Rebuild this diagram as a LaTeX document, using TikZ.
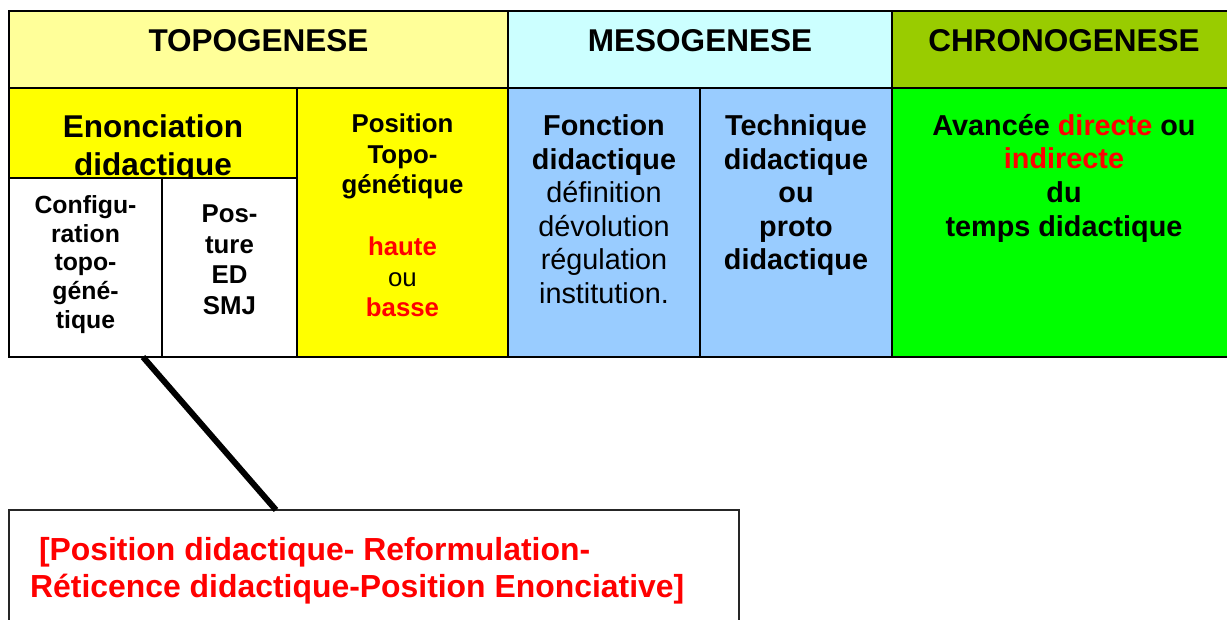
\documentclass[tikz,border=0pt]{standalone}
\usepackage{fontspec}
\setmainfont{Liberation Sans}
\usetikzlibrary{calc}
\definecolor{hdrtopo}{HTML}{FFFF99}
\definecolor{hdrmeso}{HTML}{CCFFFF}
\definecolor{hdrchrono}{HTML}{99CC00}
\definecolor{bodytopo}{HTML}{FFFF00}
\definecolor{bodymeso}{HTML}{99CCFF}
\definecolor{bodychrono}{HTML}{00FF00}
\definecolor{txtred}{HTML}{FF0000}
\newcommand{\redtxt}[1]{\textcolor{txtred}{#1}}
\begin{document}
\begin{tikzpicture}[x=1pt,y=-1pt,
  cell/.style={draw=black,line width=2pt,anchor=north west,inner sep=0pt,outer sep=0pt},
  hdrtext/.style={anchor=base,inner sep=0pt,font=\fontsize{31.5}{36}\selectfont\bfseries},
  bodytext/.style={anchor=north,inner sep=0pt,align=center},
  connector/.style={line width=6pt,draw=black}
]
\useasboundingbox (0,0) rectangle (1227,620);
\clip (0,0) rectangle (1227,620);
% header cells
\node[cell,fill=hdrtopo,minimum width=499pt,minimum height=77pt] (htopo) at (9,11) {};
\node[cell,fill=hdrmeso,minimum width=384pt,minimum height=77pt] (hmeso) at (508,11) {};
\node[cell,fill=hdrchrono,minimum width=344pt,minimum height=77pt] (hchrono) at (892,11) {};
% body cells
\node[cell,fill=bodytopo,minimum width=288pt,minimum height=269pt] (enonc) at (9,88) {};
\node[cell,fill=bodytopo,minimum width=211pt,minimum height=269pt] (position) at (297,88) {};
\node[cell,fill=bodymeso,minimum width=192pt,minimum height=269pt] (fonction) at (508,88) {};
\node[cell,fill=bodymeso,minimum width=192pt,minimum height=269pt] (technique) at (700,88) {};
\node[cell,fill=bodychrono,minimum width=344pt,minimum height=269pt] (chrono) at (892,88) {};
% Enonciation text (partly hidden by the sub-cells)
\node[bodytext,font=\fontsize{31.5}{38.5}\selectfont\bfseries] (tenonc) at (153,114.4) {Enonciation\\didactique};
% sub-cells
\node[cell,fill=white,minimum width=153pt,minimum height=179pt] (config) at (9,178) {};
\node[cell,fill=white,minimum width=135pt,minimum height=179pt] (posture) at (162,178) {};
% header texts
\node[hdrtext] (ttopo) at (258.5,52) {TOPOGENESE};
\node[hdrtext] (tmeso) at (700,52) {MESOGENESE};
\node[hdrtext] (tchrono) at (1064,52) {CHRONOGENESE};
% body texts
\node[bodytext,font=\fontsize{24.8}{28.7}\selectfont\bfseries] (tconfig) at (85.5,195.2) {Configu-\\ration\\topo-\\géné-\\tique};
\node[bodytext,font=\fontsize{25.8}{30.7}\selectfont\bfseries] (tposture) at (229.5,204.5) {Pos-\\ture\\ED\\SMJ};
\node[bodytext,font=\fontsize{25.8}{30.7}\selectfont\bfseries] (tposition) at (402.5,113.5) {Position\\Topo-\\génétique\\[31pt]\redtxt{haute}\\{\mdseries ou}\\\redtxt{basse}};
\node[bodytext,font=\fontsize{28.8}{33.6}\selectfont\bfseries] (tfonction) at (604,114.4) {Fonction\\didactique\\{\mdseries définition}\\{\mdseries dévolution}\\{\mdseries régulation}\\{\mdseries institution.}};
\node[bodytext,font=\fontsize{28.8}{33.6}\selectfont\bfseries] (ttechnique) at (796,114.4) {Technique\\didactique\\ou\\proto\\didactique};
\node[bodytext,font=\fontsize{28.8}{33.6}\selectfont\bfseries] (tchronobody) at (1064,114) {Avancée \redtxt{directe} ou\\\redtxt{indirecte}\\du\\temps didactique};
% callout
\node[draw=black!85,line width=1.5pt,anchor=north west,minimum width=730pt,minimum height=140pt,inner sep=0pt,outer sep=0pt] (callout) at (9,510) {};
\node[anchor=north west,inner sep=0pt,align=left,text=txtred,font=\fontsize{31.9}{37}\selectfont\bfseries] (tcallout) at (30,537.5) {\hspace*{8.8pt}[Position didactique- Reformulation-\\Réticence didactique-Position Enonciative]};
% connector
\draw[connector] ([xshift=57.5pt]config.south) -- ([xshift=-98pt]callout.north);
\end{tikzpicture}
\end{document}
